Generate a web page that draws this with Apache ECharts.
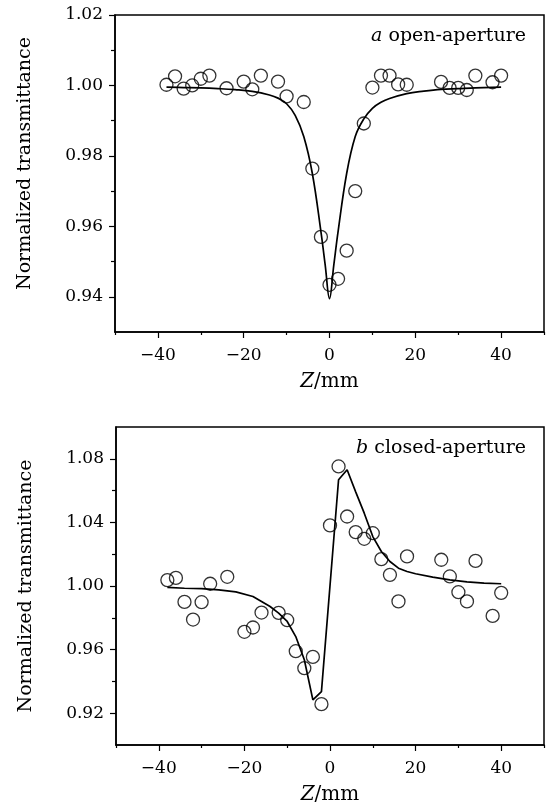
<!DOCTYPE html>
<html>
<head>
<meta charset="utf-8">
<script src="https://cdn.jsdelivr.net/npm/echarts@6/dist/echarts.min.js"></script>
<style>
  html, body { margin: 0; padding: 0; background: #fff; }
  #chart { width: 551px; height: 806px; }
</style>
</head>
<body>
<div id="chart"></div>
<script>
// (a) open-aperture: measured points
const zOpen = [-38, -36, -34, -32, -30, -28, -24, -20, -18, -16, -12, -10, -6, -4, -2, 0, 2, 4, 6, 8, 10, 12, 14, 16, 18, 26, 28, 30, 32, 34, 38, 40]
const tOpen = [1.0002, 1.0026, 0.9991, 1.0000, 1.0019, 1.0028, 0.9992, 1.0011, 0.9989, 1.0028, 1.0011, 0.9969, 0.9953, 0.9764, 0.9570, 0.9434, 0.9451, 0.9531, 0.9700, 0.9892, 0.9994, 1.0028, 1.0028, 1.0003, 1.0002, 1.0010, 0.9993, 0.9993, 0.9987, 1.0028, 1.0009, 1.0028]
// (a) fitted curve
const zFitOpen = [-38, -34, -30, -26, -22, -18, -14, -12, -10, -8, -6, -4, -2, -1, 0, 1, 2, 4, 6, 8, 10, 12, 14, 18, 22, 26, 30, 34, 40]
const tFitOpen = [0.9995, 0.9994, 0.9993, 0.9991, 0.9988, 0.9983, 0.9973, 0.9964, 0.9948, 0.9915, 0.9855, 0.9750, 0.9585, 0.9490, 0.9395, 0.9490, 0.9585, 0.9750, 0.9855, 0.9905, 0.9935, 0.9952, 0.9963, 0.9977, 0.9984, 0.9989, 0.9991, 0.9993, 0.9995]

// (b) closed-aperture: measured points
const zClosed = [-38, -36, -34, -32, -30, -28, -24, -20, -18, -16, -12, -10, -8, -6, -4, -2, 0, 2, 4, 6, 8, 10, 12, 14, 16, 18, 26, 28, 30, 32, 34, 38, 40]
const tClosed = [1.0037, 1.0051, 0.9900, 0.9789, 0.9898, 1.0014, 1.0058, 0.9712, 0.9739, 0.9833, 0.9831, 0.9785, 0.9590, 0.9483, 0.9554, 0.9257, 1.0381, 1.0752, 1.0437, 1.0339, 1.0297, 1.0332, 1.0169, 1.0070, 0.9903, 1.0186, 1.0165, 1.0060, 0.9961, 0.9903, 1.0158, 0.9812, 0.9957]
// (b) fitted curve
const zFitClosed = [-38, -34, -30, -26, -22, -18, -16, -14, -12, -10, -8, -6, -4, -2, 2, 4, 6, 8, 10, 12, 14, 16, 18, 20, 24, 28, 32, 36, 40]
const tFitClosed = [0.9991, 0.9986, 0.9984, 0.9976, 0.9963, 0.9934, 0.9903, 0.9871, 0.9829, 0.9777, 0.9682, 0.9536, 0.9284, 0.9336, 1.0668, 1.0731, 1.0592, 1.0458, 1.0311, 1.0217, 1.0154, 1.0112, 1.0091, 1.0077, 1.0056, 1.0039, 1.0026, 1.0018, 1.0014]

// tick positions
const xMajor = [-40, -20, 0, 20, 40]
const xMinor = [-50, -30, -10, 10, 30, 50]
const yMajorA = [0.94, 0.96, 0.98, 1.00, 1.02]
const yMinorA = [0.95, 0.97, 0.99, 1.01]
const yMajorB = [0.92, 0.96, 1.00, 1.04, 1.08]
const yMinorB = [0.94, 0.98, 1.02, 1.06]

const FONT = 'DejaVu Serif'
const zip = (xs, ys) => xs.map((x, i) => [x, ys[i]])

function xAxes(gridIndex) {
  const base = {
    type: 'value', gridIndex, min: -50, max: 50, position: 'bottom', offset: 0,
    splitLine: { show: false }
  }
  return [
    {
      ...base,
      name: '{i|Z}/mm',
      nameLocation: 'middle',
      nameGap: 40,
      nameTextStyle: {
        fontFamily: FONT, fontSize: 20, color: '#000',
        rich: { i: { fontFamily: FONT, fontStyle: 'italic', fontSize: 20, color: '#000' } }
      },
      axisLine: { onZero: false, lineStyle: { color: '#000', width: 1.5 } },
      axisTick: { length: 6, customValues: xMajor, lineStyle: { color: '#000', width: 1.2 } },
      axisLabel: {
        customValues: xMajor, margin: 15, color: '#000', fontFamily: FONT, fontSize: 17,
        formatter: v => (v < 0 ? '\u2212' + Math.abs(v) : String(v))
      }
    },
    {
      ...base,
      axisLine: { show: false, onZero: false },
      axisTick: { length: 3, customValues: xMinor, lineStyle: { color: '#000', width: 1.2 } },
      axisLabel: { show: false }
    }
  ]
}

function yAxes(gridIndex, min, max, major, minor, namePad) {
  const base = {
    type: 'value', gridIndex, min, max, position: 'left', offset: 0,
    splitLine: { show: false }
  }
  return [
    {
      ...base,
      name: 'Normalized transmittance',
      nameLocation: 'middle',
      nameGap: 80,
      nameTextStyle: { fontFamily: FONT, fontSize: 19, color: '#000', padding: namePad },
      axisLine: { onZero: false, lineStyle: { color: '#000', width: 1.5 } },
      axisTick: { length: 6, customValues: major, lineStyle: { color: '#000', width: 1.2 } },
      axisLabel: {
        customValues: major, margin: 12, color: '#000', fontFamily: FONT, fontSize: 17,
        formatter: v => v.toFixed(2)
      }
    },
    {
      ...base,
      axisLine: { show: false, onZero: false },
      axisTick: { length: 4, customValues: minor, lineStyle: { color: '#000', width: 1.2 } },
      axisLabel: { show: false }
    }
  ]
}

const pointStyle = {
  type: 'scatter',
  symbol: 'circle',
  symbolSize: 13,
  itemStyle: { color: 'transparent', borderColor: '#000', borderWidth: 1.3 },
  z: 3
}
const fitStyle = {
  type: 'line',
  symbol: 'none',
  lineStyle: { color: '#000', width: 1.7 },
  z: 2
}
const labelText = {
  fontFamily: FONT, fontSize: 19, fontWeight: 'normal', color: '#000',
  rich: { i: { fontFamily: FONT, fontStyle: 'italic', fontSize: 19, color: '#000' } }
}

const chart = echarts.init(document.getElementById('chart'))
chart.setOption({
  backgroundColor: '#fff',
  animation: false,
  title: [
    { text: '{i|a} open-aperture', right: 20, top: 22, textStyle: labelText },
    { text: '{i|b} closed-aperture', right: 20, top: 434, textStyle: labelText }
  ],
  grid: [
    { left: 115, top: 15, width: 429, height: 317, show: true, borderColor: '#000', borderWidth: 1.5, backgroundColor: 'transparent' },
    { left: 116, top: 427, width: 428, height: 318, show: true, borderColor: '#000', borderWidth: 1.5, backgroundColor: 'transparent' }
  ],
  xAxis: [...xAxes(0), ...xAxes(1)],
  yAxis: [
    ...yAxes(0, 0.93, 1.02, yMajorA, yMinorA, [0, 0, 0, 20]),
    ...yAxes(1, 0.90, 1.10, yMajorB, yMinorB, 0)
  ],
  series: [
    { ...fitStyle, xAxisIndex: 0, yAxisIndex: 0, smooth: 0.4, data: zip(zFitOpen, tFitOpen) },
    { ...pointStyle, xAxisIndex: 0, yAxisIndex: 0, data: zip(zOpen, tOpen) },
    { ...fitStyle, xAxisIndex: 2, yAxisIndex: 2, data: zip(zFitClosed, tFitClosed) },
    { ...pointStyle, xAxisIndex: 2, yAxisIndex: 2, data: zip(zClosed, tClosed) }
  ]
})
</script>
</body>
</html>
